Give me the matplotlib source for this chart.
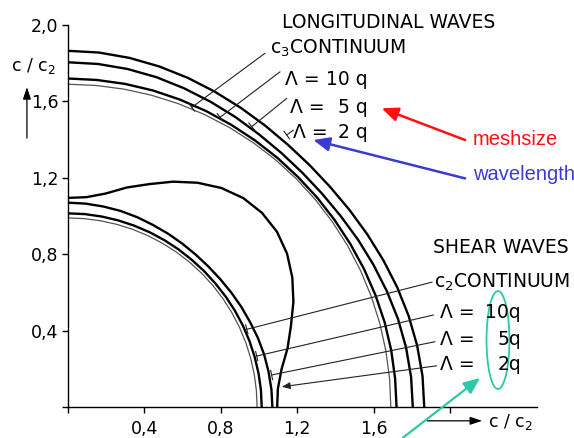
import numpy as np
import matplotlib.pyplot as plt
from matplotlib.patches import Ellipse

angles_deg = [0, 5, 10, 15, 20, 25, 30, 35, 40, 45, 50, 55, 60, 65, 70, 75, 80, 85, 90]

# longitudinal waves, c/c2
long_2q = [1.865, 1.863, 1.856, 1.846, 1.834, 1.821, 1.809, 1.799, 1.792, 1.790,
           1.792, 1.799, 1.809, 1.821, 1.834, 1.846, 1.856, 1.863, 1.865]
long_5q = [1.805, 1.803, 1.797, 1.788, 1.776, 1.764, 1.753, 1.743, 1.737, 1.735,
           1.737, 1.743, 1.753, 1.764, 1.776, 1.788, 1.797, 1.803, 1.805]
long_10q = [1.720, 1.719, 1.718, 1.716, 1.713, 1.710, 1.707, 1.705, 1.704, 1.703,
            1.704, 1.705, 1.707, 1.710, 1.713, 1.716, 1.718, 1.719, 1.720]
c3_continuum = 1.69

# shear waves, c/c2
shear_2q = [1.095, 1.103, 1.135, 1.190, 1.242, 1.302, 1.356, 1.400, 1.428, 1.437,
            1.428, 1.400, 1.356, 1.302, 1.242, 1.190, 1.135, 1.103, 1.095]
shear_5q = [1.070, 1.069, 1.066, 1.063, 1.058, 1.052, 1.048, 1.044, 1.041, 1.040,
            1.041, 1.044, 1.048, 1.052, 1.058, 1.063, 1.066, 1.069, 1.070]
shear_10q = [1.014, 1.014, 1.013, 1.012, 1.011, 1.010, 1.009, 1.008, 1.007, 1.007,
             1.007, 1.008, 1.009, 1.010, 1.011, 1.012, 1.013, 1.014, 1.014]
c2_continuum = 0.99

tick_vals = [0.4, 0.8, 1.2, 1.6, 2.0]
ytick_labels = ["0,4", "0,8", "1,2", "1,6", "2,0"]
xtick_labels = ["0,4", "0,8", "1,2", "1,6", ""]

long_labels = ["10 q", "5 q", "2 q"]
shear_labels = ["10q", "5q", "2q"]


def draw_curve(ax, radii, lw, color="black"):
    th = np.radians(angles_deg)
    r = np.broadcast_to(np.asarray(radii, dtype=float), th.shape)
    ax.plot(r * np.cos(th), r * np.sin(th), color=color, lw=lw,
            solid_capstyle="butt", solid_joinstyle="round")


def leader(ax, start, end, style="-[, widthB=0.35, lengthB=0"):
    ax.annotate("", xy=end, xytext=start,
                arrowprops=dict(arrowstyle=style, lw=0.8, color="#222222",
                                shrinkA=0, shrinkB=0, mutation_scale=10))


fig = plt.figure(figsize=(5.74, 4.38), dpi=100)
ax = fig.add_axes([0, 0, 1, 1])
ax.set_xlim(-0.356, 2.649)
ax.set_ylim(-0.162, 2.131)

# curves
thick, thin = 1.7, 0.9
for r in (long_2q, long_5q, long_10q):
    draw_curve(ax, r, thick)
draw_curve(ax, c3_continuum, thin, "#555555")
for r in (shear_2q, shear_5q, shear_10q):
    draw_curve(ax, r, thick)
draw_curve(ax, c2_continuum, thin, "#555555")

# axes
for s in ("top", "right"):
    ax.spines[s].set_visible(False)
ax.spines["left"].set_position(("data", 0))
ax.spines["bottom"].set_position(("data", 0))
ax.spines["left"].set_bounds(0, 2.0)
ax.spines["bottom"].set_bounds(0, 2.455)
for s in ("left", "bottom"):
    ax.spines[s].set_linewidth(1.0)
ax.set_xticks([0] + tick_vals)
ax.set_xticklabels([""] + xtick_labels)
ax.set_yticks([0] + tick_vals)
ax.set_yticklabels([""] + ytick_labels)
ax.tick_params(axis="both", direction="out", length=4, width=1.0, labelsize=12.5)
ax.tick_params(axis="x", pad=5)
ax.tick_params(axis="y", pad=3)

# axis labels with arrows
ax.text(-0.183, 1.785, "c / c$_2$", fontsize=12.5, ha="center", va="center")
ax.annotate("", xy=(-0.215, 1.675), xytext=(-0.215, 1.408),
            arrowprops=dict(arrowstyle="-|>,head_length=0.6,head_width=0.2", lw=0.9,
                            color="black", shrinkA=0, shrinkB=0, mutation_scale=12))
ax.text(2.314, -0.105, "c / c$_2$", fontsize=12.5, ha="center", va="baseline")
ax.annotate("", xy=(2.168, -0.072), xytext=(1.880, -0.072),
            arrowprops=dict(arrowstyle="-|>,head_length=0.6,head_width=0.2", lw=0.9,
                            color="black", shrinkA=0, shrinkB=0, mutation_scale=12))

# longitudinal labels
fs = 13.5
ax.text(1.120, 1.983, "LONGITUDINAL WAVES", fontsize=fs, va="baseline")
ax.text(1.058, 1.852, "c$_3$CONTINUUM", fontsize=fs, va="baseline")
long_lam_x = [1.136, 1.162, 1.178]
long_y = [1.686, 1.539, 1.408]
for lx, ly, lab in zip(long_lam_x, long_y, long_labels):
    ax.text(lx, ly, "\u039b =", fontsize=fs, va="baseline")
    ax.text(1.571, ly, lab, fontsize=fs, va="baseline", ha="right")
leader(ax, (1.031, 1.852), (0.648, 1.569))
leader(ax, (1.110, 1.755), (0.796, 1.517))
leader(ax, (1.145, 1.616), (0.962, 1.468))
leader(ax, (1.180, 1.450), (1.145, 1.424))

# shear labels
ax.text(1.911, 0.806, "SHEAR WAVES", fontsize=fs, va="baseline")
ax.text(1.916, 0.623, "c$_2$CONTINUUM", fontsize=fs, va="baseline")
shear_y = [0.466, 0.325, 0.194]
for ly, lab in zip(shear_y, shear_labels):
    ax.text(1.948, ly, "\u039b =", fontsize=fs, va="baseline")
    ax.text(2.372, ly, lab, fontsize=fs, va="baseline", ha="right")
leader(ax, (1.906, 0.654), (0.936, 0.407))
leader(ax, (1.913, 0.482), (0.988, 0.267))
leader(ax, (1.921, 0.342), (1.066, 0.168))
leader(ax, (1.930, 0.216), (1.119, 0.106), style="-|>,head_length=0.5,head_width=0.2")

# coloured annotations
red, blue, teal = "#ff1111", "#3b3bd4", "#2cc9a4"
ax.text(2.120, 1.372, "meshsize", fontsize=14.5, color=red,
        family="Liberation Sans", va="baseline")
ax.annotate("", xy=(1.642, 1.564), xytext=(2.079, 1.398),
            arrowprops=dict(arrowstyle="-|>,head_length=0.7,head_width=0.3", lw=1.8,
                            color=red, shrinkA=0, shrinkB=0, mutation_scale=14))
ax.text(2.120, 1.188, "wavelength", fontsize=14.5, color=blue,
        family="Liberation Sans", va="baseline")
ax.annotate("", xy=(1.284, 1.398), xytext=(2.079, 1.197),
            arrowprops=dict(arrowstyle="-|>,head_length=0.7,head_width=0.3", lw=1.8,
                            color=blue, shrinkA=0, shrinkB=0, mutation_scale=14))
ax.add_patch(Ellipse((2.251, 0.351), 0.12, 0.513, fill=False, ec=teal, lw=1.3))
ax.annotate("", xy=(2.157, 0.152), xytext=(1.754, -0.160),
            arrowprops=dict(arrowstyle="-|>,head_length=0.7,head_width=0.3", lw=1.6,
                            color=teal, shrinkA=0, shrinkB=0, mutation_scale=14))

fig.savefig("out.png", dpi=100)
